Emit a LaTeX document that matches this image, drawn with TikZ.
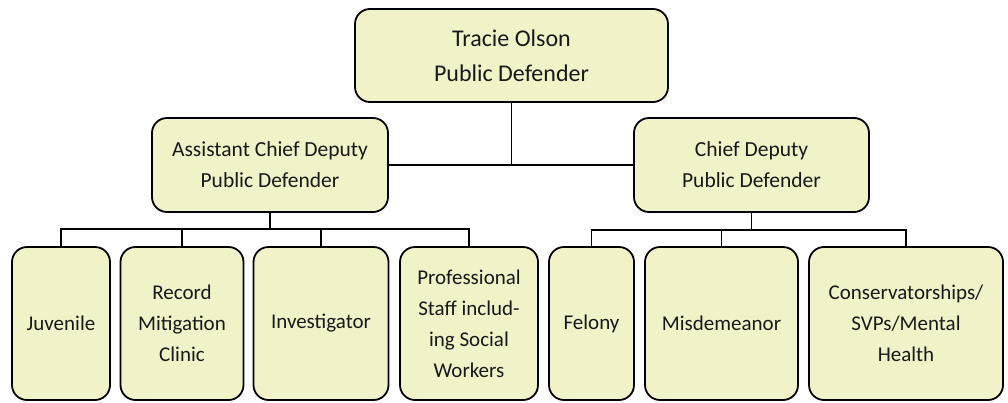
\documentclass[tikz,border=0pt]{standalone}
\usepackage{fontspec}
\setmainfont{Carlito}
\begin{document}
\begin{tikzpicture}[x=1pt,y=-1pt,
  unit/.style={draw=black, line width=1.8pt, fill={rgb,255:red,242;green,242;blue,200},
    rounded corners=15pt, inner sep=0pt, align=center, text=black!90,
    font=\fontsize{21}{31}\selectfont},
  link/.style={draw=black, line width=1.8pt}]
\useasboundingbox (0,0) rectangle (1008,402);

% head of office
\node[unit, minimum width=313pt, minimum height=93pt, font=\fontsize{24}{35}\selectfont]
  (pd) at (511.5,55.5) {Tracie Olson\\Public Defender};

% deputies
\node[unit, minimum width=236pt, minimum height=94pt, font=\fontsize{21.5}{31}\selectfont]
  (acd) at (270,165) {Assistant Chief Deputy\\Public Defender};
\node[unit, minimum width=235pt, minimum height=94pt, font=\fontsize{21.5}{31}\selectfont]
  (cd) at (751.5,165) {Chief Deputy\\Public Defender};

% units
\node[unit, minimum width=98pt,  minimum height=153pt] (juv) at (61,323.5) {Juvenile};
\node[unit, minimum width=123pt, minimum height=153pt] (rmc) at (182,323.5) {Record\\Mitigation\\Clinic};
\node[unit, minimum width=135pt, minimum height=153pt] (inv) at (321,323.5) {Investigator};
\node[unit, minimum width=138pt, minimum height=153pt] (pro) at (469,323.5) {Professional\\Staff includ-\\ing Social\\Workers};
\node[unit, minimum width=85pt,  minimum height=153pt] (fel) at (591.5,323.5) {Felony};
\node[unit, minimum width=153pt, minimum height=153pt] (mis) at (721.5,323.5) {Misdemeanor};
\node[unit, minimum width=194pt, minimum height=153pt] (con) at (906,323.5) {Conservatorships/\\SVPs/Mental\\Health};

% connectors
\coordinate (mid) at (pd.south |- acd.east);
\draw[link] (pd.south) -- (mid);
\draw[link] (acd.east) -- (cd.west);

\coordinate (lbar) at (acd.south |- 0,229);
\draw[link] (acd.south) -- (lbar);
\draw[link] (juv.north) |- (lbar) -| (pro.north);
\draw[link] (rmc.north) -- (rmc.north |- lbar);
\draw[link] (inv.north) -- (inv.north |- lbar);

\coordinate (rbar) at (cd.south |- 0,230);
\draw[link] (cd.south) -- (rbar);
\draw[link] (fel.north) |- (rbar) -| (con.north);
\draw[link] (mis.north) -- (mis.north |- rbar);
\end{tikzpicture}
\end{document}
